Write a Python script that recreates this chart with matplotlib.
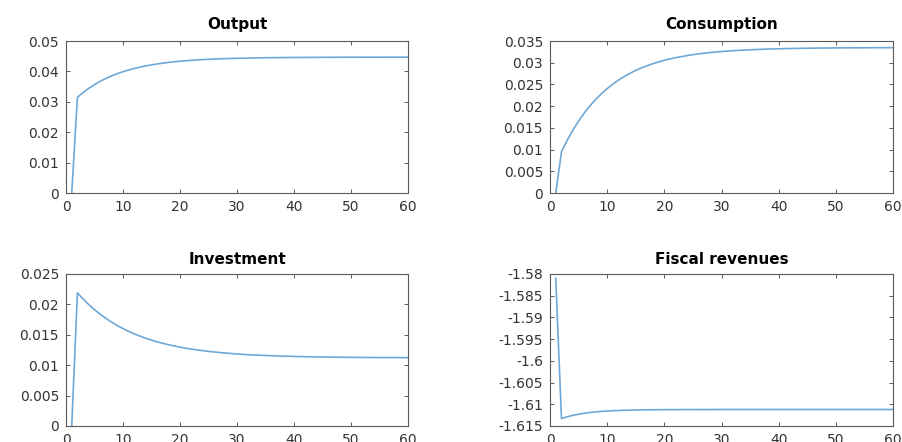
import numpy as np
import matplotlib
matplotlib.use('Agg')
import matplotlib.pyplot as plt
from matplotlib.ticker import FuncFormatter, MultipleLocator

# periods 1..60
periods = list(range(1, 61))

output = [
    0.0, 0.03150, 0.03307, 0.03445, 0.03567, 0.03675, 0.03769, 0.03853, 0.03926, 0.03991,
    0.04048, 0.04098, 0.04142, 0.04181, 0.04216, 0.04246, 0.04273, 0.04296, 0.04317, 0.04335,
    0.04351, 0.04365, 0.04378, 0.04389, 0.04398, 0.04407, 0.04414, 0.04421, 0.04427, 0.04432,
    0.04436, 0.04440, 0.04444, 0.04447, 0.04450, 0.04452, 0.04454, 0.04456, 0.04458, 0.04459,
    0.04460, 0.04461, 0.04462, 0.04463, 0.04464, 0.04465, 0.04465, 0.04466, 0.04466, 0.04467,
    0.04467, 0.04468, 0.04468, 0.04468, 0.04468, 0.04469, 0.04469, 0.04469, 0.04469, 0.04469,
]

consumption = [
    0.0, 0.00950, 0.01214, 0.01449, 0.01658, 0.01844, 0.02010, 0.02157, 0.02288, 0.02405,
    0.02509, 0.02602, 0.02684, 0.02757, 0.02823, 0.02881, 0.02932, 0.02978, 0.03019, 0.03056,
    0.03088, 0.03117, 0.03142, 0.03165, 0.03186, 0.03204, 0.03220, 0.03234, 0.03247, 0.03258,
    0.03268, 0.03277, 0.03285, 0.03292, 0.03299, 0.03304, 0.03309, 0.03314, 0.03318, 0.03321,
    0.03324, 0.03327, 0.03330, 0.03332, 0.03334, 0.03336, 0.03337, 0.03339, 0.03340, 0.03341,
    0.03342, 0.03343, 0.03344, 0.03344, 0.03345, 0.03345, 0.03346, 0.03346, 0.03346, 0.03347,
]

investment = [
    0.0, 0.02190, 0.02088, 0.01996, 0.01913, 0.01838, 0.01770, 0.01708, 0.01652, 0.01601,
    0.01556, 0.01514, 0.01477, 0.01443, 0.01412, 0.01384, 0.01359, 0.01337, 0.01316, 0.01297,
    0.01280, 0.01265, 0.01251, 0.01239, 0.01228, 0.01217, 0.01208, 0.01200, 0.01192, 0.01185,
    0.01179, 0.01173, 0.01168, 0.01164, 0.01160, 0.01156, 0.01152, 0.01149, 0.01147, 0.01144,
    0.01142, 0.01140, 0.01138, 0.01136, 0.01135, 0.01133, 0.01132, 0.01131, 0.01130, 0.01129,
    0.01128, 0.01127, 0.01127, 0.01126, 0.01126, 0.01125, 0.01125, 0.01125, 0.01124, 0.01124,
]

fiscal = [
    -1.58100, -1.61330, -1.61288, -1.61254, -1.61228, -1.61206, -1.61189, -1.61175, -1.61164, -1.61155,
    -1.61148, -1.61143, -1.61138, -1.61134, -1.61132, -1.61129, -1.61127, -1.61126, -1.61125, -1.61124,
    -1.61123, -1.61123, -1.61122, -1.61122, -1.61121, -1.61121, -1.61121, -1.61121, -1.61120, -1.61120,
    -1.61120, -1.61120, -1.61120, -1.61120, -1.61120, -1.61120, -1.61120, -1.61120, -1.61120, -1.61120,
    -1.61120, -1.61120, -1.61120, -1.61120, -1.61120, -1.61120, -1.61120, -1.61120, -1.61120, -1.61120,
    -1.61120, -1.61120, -1.61120, -1.61120, -1.61120, -1.61120, -1.61120, -1.61120, -1.61120, -1.61120,
]

titles = ['Output', 'Consumption', 'Investment', 'Fiscal revenues']
ylims = [(0, 0.05), (0, 0.035), (0, 0.025), (-1.615, -1.58)]
ysteps = [0.01, 0.005, 0.005, 0.005]
series = [output, consumption, investment, fiscal]

LINE_COLOR = '#6fa8d6'
AX_COLOR = '#5a5a5a'
TEXT_COLOR = '#333333'

# axes boxes in figure fractions: left, bottom, width, height
boxes = [
    (0.0732, 0.5633, 0.3792, 0.3439),
    (0.6098, 0.5633, 0.3803, 0.3439),
    (0.0732, 0.0362, 0.3792, 0.3439),
    (0.6098, 0.0362, 0.3803, 0.3439),
]
title_pads = [9, 9, 7, 7]

fig = plt.figure(figsize=(9.02, 4.42), dpi=100)

for i in range(4):
    ax = fig.add_axes(boxes[i])
    ax.plot(periods, series[i], color=LINE_COLOR, lw=1.2)
    ax.set_xlim(0, 60)
    ax.set_ylim(*ylims[i])
    ax.xaxis.set_major_locator(MultipleLocator(10))
    ax.yaxis.set_major_locator(MultipleLocator(ysteps[i]))
    ax.yaxis.set_major_formatter(FuncFormatter(lambda v, p: '%g' % round(v, 4)))
    ax.xaxis.set_major_formatter(FuncFormatter(lambda v, p: '%g' % v))
    ax.tick_params(direction='in', top=True, right=True, length=3, width=0.7,
                   color=AX_COLOR, labelcolor=TEXT_COLOR, labelsize=10, pad=5)
    for s in ax.spines.values():
        s.set_color(AX_COLOR)
        s.set_linewidth(0.8)
    ax.set_title(titles[i], fontsize=11, fontweight='bold', pad=title_pads[i])

fig.savefig('out.png', dpi=100)
